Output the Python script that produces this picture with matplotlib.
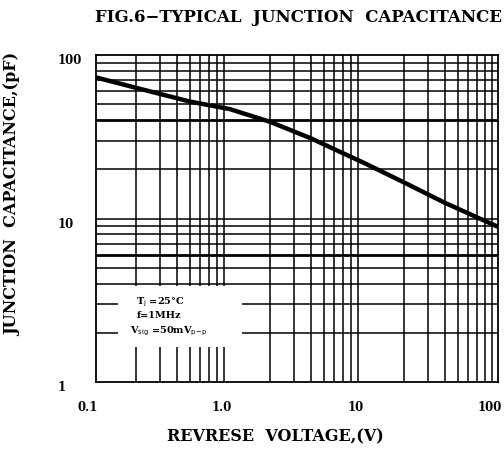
import matplotlib

matplotlib.use("Agg")
import matplotlib.pyplot as plt  # noqa: E402
import matplotlib.transforms as mtransforms  # noqa: E402
from matplotlib.patches import Rectangle  # noqa: E402

# reverse voltage (V) vs junction capacitance (pF)
volts = [0.1, 0.2, 0.5, 1.0, 2.0, 4.0, 10.0, 20.0, 40.0, 100.0]
cap_pf = [73, 63, 52, 46.7, 39, 31, 21.9, 16.6, 12.5, 8.9]

x_ticks = [0.1, 1.0, 10, 100]
x_labels = ["0.1", "1.0", "10", "100"]
y_ticks = [1, 10, 100]
y_labels = ["1", "10", "100"]
heavy_rows = [40, 6]

font = "DejaVu Serif"

fig = plt.figure(figsize=(5.04, 4.63), dpi=100)
ax = fig.add_axes([0.1905, 0.175, 0.7975, 0.706])
ax.set_xscale("log")
ax.set_yscale("log")
ax.set_xlim(0.1, 100)
ax.set_ylim(1, 100)

# log grid, every 1..9 in each decade
for d in (0.1, 1, 10):
    for m in range(2, 10):
        ax.axvline(d * m, color="black", linewidth=1.1, zorder=1)
for d in (1, 10):
    for m in range(1, 10):
        v = d * m
        if v == 1:
            continue
        lw = 2.0 if v in heavy_rows else 1.1
        ax.axhline(v, color="black", linewidth=lw, zorder=1)

# blank area for the test conditions
ax.add_patch(Rectangle((0.146, 1.63), 1.23 - 0.146, 3.84 - 1.63,
                       facecolor="white", edgecolor="none", zorder=2))
cond = dict(fontsize=7, fontweight="bold", family=font, zorder=3)
ax.text(0.2, 3.0, r"T$_{\rm j}$ =25°C", **cond)
ax.text(0.2, 2.45, "f=1MHz", **cond)
ax.text(0.18, 1.98, r"V$_{\rm sig}$ =50mV$_{\rm p\!-\!p}$", **cond)

ax.plot(volts, cap_pf, color="black", linewidth=3.2, zorder=4,
        solid_capstyle="butt")

for s in ax.spines.values():
    s.set_linewidth(1.3)

ax.set_xticks(x_ticks)
ax.set_xticklabels(x_labels)
ax.set_yticks(y_ticks)
ax.set_yticklabels(y_labels)
ax.minorticks_off()
ax.tick_params(axis="both", length=0, labelsize=8.5)
ax.tick_params(axis="x", pad=14)
ax.tick_params(axis="y", pad=28)
for lab in ax.get_xticklabels():
    lab.set_fontweight("bold")
    lab.set_family(font)
    lab.set_transform(lab.get_transform() +
                      mtransforms.ScaledTranslation(-8 / 100, 0, fig.dpi_scale_trans))
for lab in ax.get_yticklabels():
    lab.set_fontweight("bold")
    lab.set_family(font)
    lab.set_horizontalalignment("left")
    lab.set_transform(lab.get_transform() +
                      mtransforms.ScaledTranslation(0, -4 / 100, fig.dpi_scale_trans))

fig.text(0.592, 0.962, "FIG.6\u2212TYPICAL  JUNCTION  CAPACITANCE",
         ha="center", va="center", fontsize=12, fontweight="bold", family=font)
fig.text(0.547, 0.056, "REVRESE  VOLTAGE,(V)",
         ha="center", va="center", fontsize=11.5, fontweight="bold", family=font)
fig.text(0.026, 0.58, "JUNCTION  CAPACITANCE,(pF)", rotation=90,
         ha="center", va="center", fontsize=11.5, fontweight="bold", family=font)

fig.savefig("out.png", dpi=100)
